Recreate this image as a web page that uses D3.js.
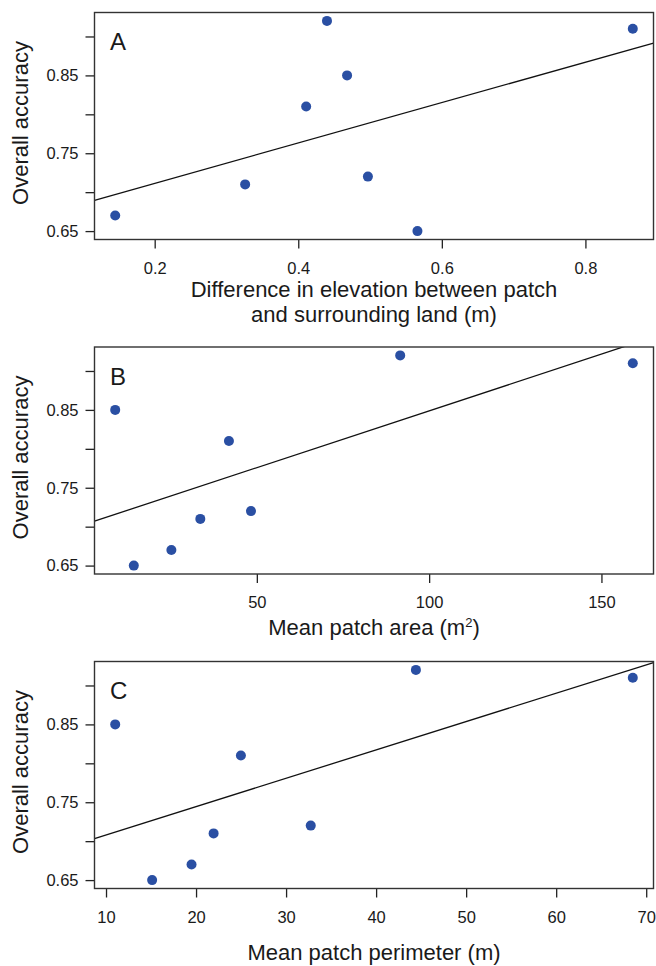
<!DOCTYPE html>
<html>
<head>
<meta charset="utf-8">
<script src="https://cdn.jsdelivr.net/npm/d3@7"></script>
<style>
  body { margin: 0; background: #fff; }
  svg text { font-family: "Liberation Sans", Arial, sans-serif; fill: #1a1a1a; }
</style>
</head>
<body>
<svg id="chart" width="656" height="966"></svg>
<script>
// one value per site, same site order in every array
var accuracy = [0.67, 0.71, 0.81, 0.92, 0.85, 0.72, 0.65, 0.91];
var elevDiff = [0.145, 0.326, 0.411, 0.440, 0.468, 0.497, 0.566, 0.866];
var patchArea = [25.2, 33.6, 41.9, 91.6, 8.9, 48.3, 14.3, 159.1];
var patchPerimeter = [19.5, 21.95, 24.98, 44.42, 11.02, 32.74, 15.12, 68.51];

var yTicks = [0.65, 0.70, 0.75, 0.80, 0.85, 0.90];
var yTickLabels = ["0.65", "", "0.75", "", "0.85", ""];
var xTicksA = [0.2, 0.4, 0.6, 0.8];
var xTicksB = [50, 100, 150];
var xTicksC = [10, 20, 30, 40, 50, 60, 70];

var panels = [
    { letter: "A", xs: elevDiff, ticks: xTicksA, fmt: d3.format(".1f"), top: 12.5,
      title: ["Difference in elevation between patch", "and surrounding land (m)"], titleY: [297, 322] },
    { letter: "B", xs: patchArea, ticks: xTicksB, fmt: d3.format("d"), top: 347,
      title: ["Mean patch area (m", "2", ")"], titleY: [635] },
    { letter: "C", xs: patchPerimeter, ticks: xTicksC, fmt: d3.format("d"), top: 661.5,
      title: ["Mean patch perimeter (m)"], titleY: [960] }
];

var svg = d3.select("#chart"),
    cs = { left: 94.5, right: 653.5, height: 227, tick: 9, dot: 5, color: "#2a4fa3", title: 22 };

// R-style axis range: data range padded by 4% each side
var pad = function (ext) {
    var p = (ext[1] - ext[0]) * 0.04;
    return [ext[0] - p, ext[1] + p];
};

var fit = function (xs, ys) {
    var mx = d3.mean(xs), my = d3.mean(ys);
    var sxy = d3.sum(xs, (x, i) => (x - mx) * (ys[i] - my));
    var sxx = d3.sum(xs, x => (x - mx) * (x - mx));
    var b = sxy / sxx;
    return { b: b, a: my - b * mx };
};

panels.forEach((p, k) => {
    var bottom = p.top + cs.height;
    var x = d3.scaleLinear().domain(pad(d3.extent(p.xs))).range([cs.left, cs.right]);
    var y = d3.scaleLinear().domain(pad(d3.extent(accuracy))).range([bottom, p.top]);
    var g = svg.append("g");

    g.append("clipPath").attr("id", "clip" + k)
        .append("rect").attr("x", cs.left).attr("y", p.top)
        .attr("width", cs.right - cs.left).attr("height", cs.height);

    var yAxis = d3.axisLeft(y).tickValues(yTicks).tickSize(cs.tick).tickPadding(7)
        .tickFormat((d, i) => yTickLabels[i]);
    var xAxis = d3.axisBottom(x).tickValues(p.ticks).tickSize(cs.tick).tickPadding(13.5)
        .tickFormat(p.fmt);

    g.append("g").attr("transform", "translate(" + cs.left + ",0)").call(yAxis)
        .call(a => a.select(".domain").remove())
        .selectAll("text").attr("font-size", 16.5);
    g.append("g").attr("transform", "translate(0," + bottom + ")").call(xAxis)
        .call(a => a.select(".domain").remove())
        .selectAll("text").attr("font-size", 16.5);
    g.selectAll(".tick line").attr("stroke", "#222").attr("stroke-width", 1.3);

    // fitted line
    var f = fit(p.xs, accuracy), xd = x.domain();
    g.append("line").attr("clip-path", "url(#clip" + k + ")")
        .attr("x1", x(xd[0])).attr("y1", y(f.a + f.b * xd[0]))
        .attr("x2", x(xd[1])).attr("y2", y(f.a + f.b * xd[1]))
        .attr("stroke", "#111").attr("stroke-width", 1.3);

    g.selectAll("circle").data(p.xs).enter().append("circle")
        .attr("cx", d => x(d)).attr("cy", (d, i) => y(accuracy[i]))
        .attr("r", cs.dot).attr("fill", cs.color);

    g.append("rect").attr("x", cs.left).attr("y", p.top)
        .attr("width", cs.right - cs.left).attr("height", cs.height)
        .attr("fill", "none").attr("stroke", "#333").attr("stroke-width", 1.4);

    g.append("text").attr("x", 110).attr("y", p.top + 37.5)
        .attr("font-size", 24).text(p.letter);

    g.append("text").attr("text-anchor", "middle").attr("font-size", cs.title)
        .attr("transform", "translate(28," + (p.top + cs.height / 2 - 3) + ") rotate(-90)")
        .text("Overall accuracy");

    var cx = (cs.left + cs.right) / 2;
    if (p.letter === "B") {
        var t = g.append("text").attr("x", cx).attr("y", p.titleY[0])
            .attr("text-anchor", "middle").attr("font-size", cs.title);
        t.append("tspan").text(p.title[0]);
        t.append("tspan").attr("dy", -8).attr("font-size", 13).text(p.title[1]);
        t.append("tspan").attr("dy", 8).text(p.title[2]);
    } else {
        p.title.forEach((s, i) => {
            g.append("text").attr("x", cx).attr("y", p.titleY[i])
                .attr("text-anchor", "middle").attr("font-size", cs.title).text(s);
        });
    }
});
</script>
</body>
</html>
